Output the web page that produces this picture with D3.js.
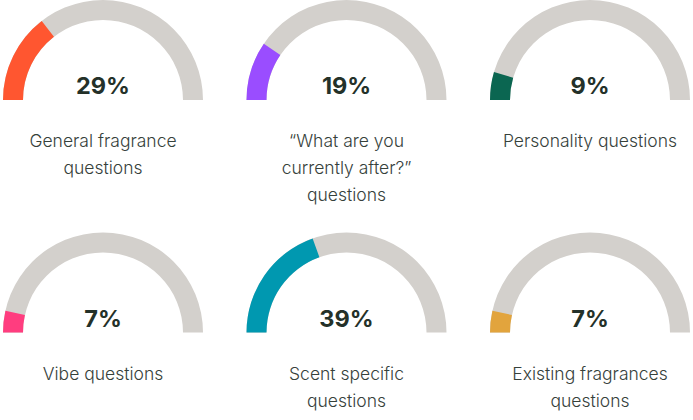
<!DOCTYPE html>
<html><head><meta charset="utf-8">
<script src="https://cdn.jsdelivr.net/npm/d3@7"></script>
<style>
html,body{margin:0;padding:0;background:#fff;}
svg{display:block;}
</style></head>
<body>
<svg id="chart" width="693" height="420"></svg>
<script>
const categories = [
  ["General fragrance", "questions"],
  ["\u201cWhat are you", "currently after?\u201d", "questions"],
  ["Personality questions"],
  ["Vibe questions"],
  ["Scent specific", "questions"],
  ["Existing fragrances", "questions"]
];
const values = [29, 19, 9, 7, 39, 7];
const valueLabels = ["29%", "19%", "9%", "7%", "39%", "7%"];
const colors = ["#ff5630", "#9a4dff", "#0b6651", "#ff3d7f", "#0098b0", "#e2a43d"];

const svg = d3.select("#chart");
const colX = [103, 346.5, 590];
const rowY = [100, 332.5];
const R = 100, thick = 20;

const angle = d3.scaleLinear().domain([0, 100]).range([-Math.PI/2, Math.PI/2]);
const arc = d3.arc().innerRadius(R - thick).outerRadius(R);

const g = svg.selectAll("g.gauge").data(values).join("g")
  .attr("class", "gauge")
  .attr("transform", (d, i) => `translate(${colX[i % 3]},${rowY[Math.floor(i / 3)]})`);

g.append("path")
  .attr("d", arc({startAngle: angle(0), endAngle: angle(100)}))
  .attr("fill", "#d3d0cc");

g.append("path")
  .attr("d", d => arc({startAngle: angle(0), endAngle: angle(d)}))
  .attr("fill", (d, i) => colors[i]);

g.append("text")
  .attr("x", 0).attr("y", -6)
  .attr("text-anchor", "middle")
  .attr("font-family", "Inter, 'Liberation Sans', sans-serif")
  .attr("font-weight", 700)
  .attr("font-size", 23.5)
  .attr("fill", "#243129")
  .text((d, i) => valueLabels[i]);

g.each(function(d, i) {
  const t = d3.select(this).append("text")
    .attr("text-anchor", "middle")
    .attr("font-family", "Inter, 'Liberation Sans', sans-serif")
    .attr("font-weight", 300)
    .attr("font-size", 17.5)
    .attr("fill", "#36413b");
  categories[i].forEach((line, k) => {
    t.append("tspan").attr("x", 0).attr("y", 47 + k * 27).text(line);
  });
});
</script>
</body></html>
